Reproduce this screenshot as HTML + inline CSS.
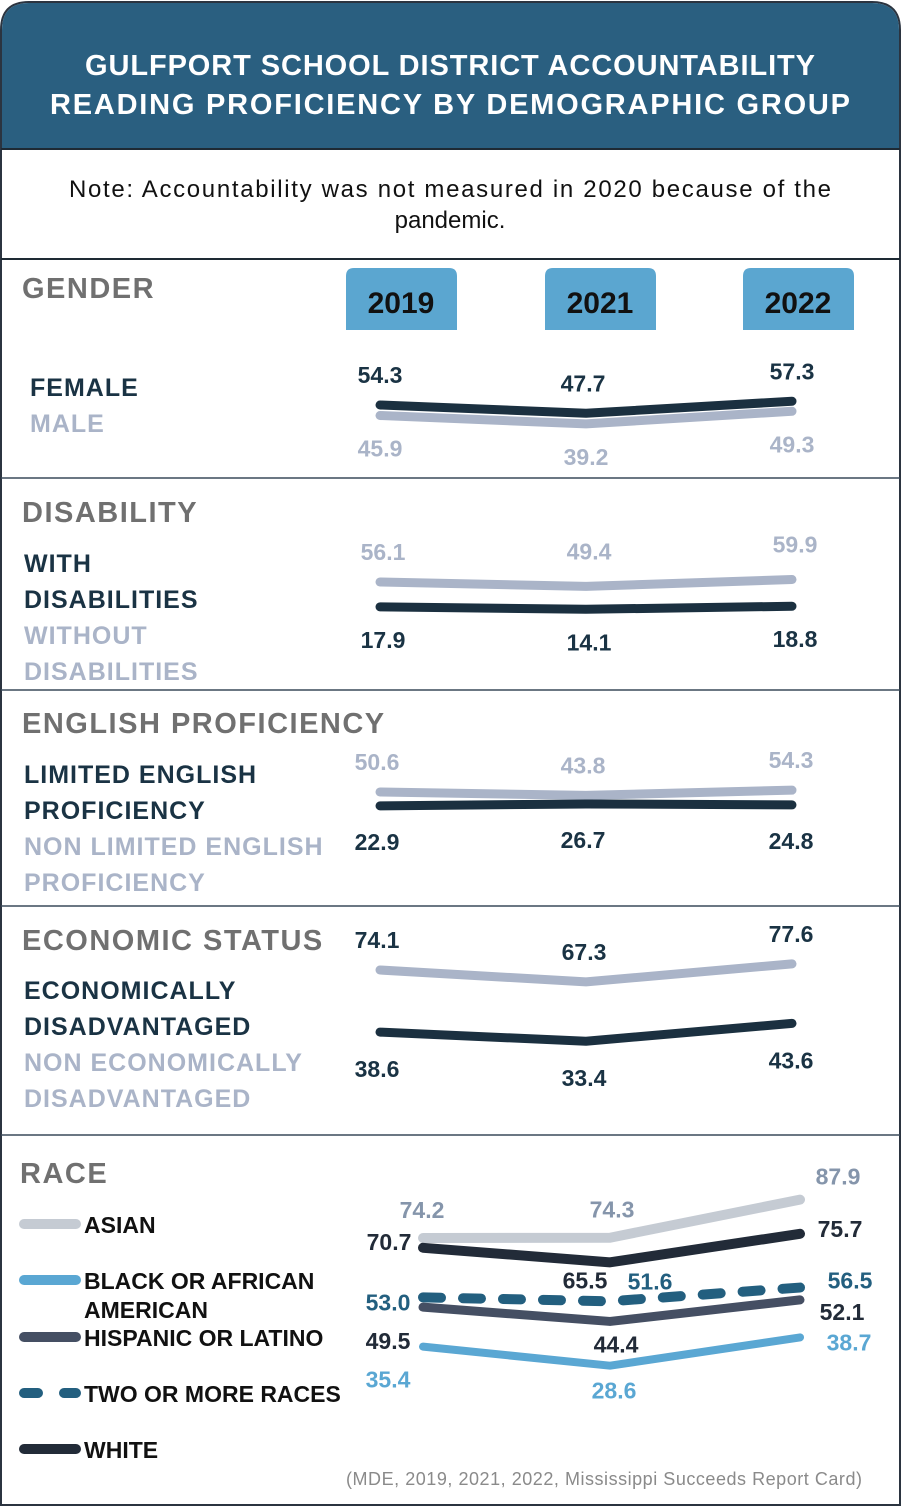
<!DOCTYPE html>
<html><head><meta charset="utf-8">
<style>
html,body{margin:0;padding:0;background:#fff;}
svg{display:block;font-family:"Liberation Sans",sans-serif;}
.lab{letter-spacing:1px;}
.head{letter-spacing:1.5px;}
</style></head>
<body>
<svg id="chart" width="901" height="1506" viewBox="0 0 901 1506">
  <path d="M1,1505 L1,30 Q1,2 29,2 L872,2 Q900,2 900,30 L900,1505 Z" fill="#fff" stroke="#2b3440" stroke-width="2"/>
  <path d="M2,148 L2,30 Q2,3 29,3 L872,3 Q899,3 899,30 L899,148 Z" fill="#2a5f80"/>
  <text x="450" y="75" text-anchor="middle" fill="#fff" font-weight="bold" font-size="29" textLength="730">GULFPORT SCHOOL DISTRICT ACCOUNTABILITY</text>
  <text x="450" y="114" text-anchor="middle" fill="#fff" font-weight="bold" font-size="29" textLength="800">READING PROFICIENCY BY DEMOGRAPHIC GROUP</text>
  <line x1="1" y1="149" x2="900" y2="149" stroke="#1e2a34" stroke-width="2"/>
  <text x="450" y="197" text-anchor="middle" fill="#111" font-size="24" textLength="762">Note: Accountability was not measured in 2020 because of the</text>
  <text x="450" y="228" text-anchor="middle" fill="#111" font-size="24">pandemic.</text>
  <line x1="1" y1="259" x2="900" y2="259" stroke="#1e2a34" stroke-width="2"/>
  <line x1="1" y1="478" x2="900" y2="478" stroke="#3a4a5a" stroke-width="1.5"/>
  <line x1="1" y1="690" x2="900" y2="690" stroke="#3a4a5a" stroke-width="1.5"/>
  <line x1="1" y1="906" x2="900" y2="906" stroke="#3a4a5a" stroke-width="1.5"/>
  <line x1="1" y1="1135" x2="900" y2="1135" stroke="#3a4a5a" stroke-width="1.5"/>

  <g id="yearboxes"></g>

  <g font-weight="bold">
    <text class="head" x="22" y="298" font-size="29" fill="#707070">GENDER</text>
    <text class="lab" x="30" y="396" font-size="25" fill="#1a3344">FEMALE</text>
    <text class="lab" x="30" y="432" font-size="25" fill="#aab4c8">MALE</text>

    <text class="head" x="22" y="522" font-size="29" fill="#707070">DISABILITY</text>
    <text class="lab" x="24" y="572" font-size="25" fill="#1a3344">WITH</text>
    <text class="lab" x="24" y="608" font-size="25" fill="#1a3344">DISABILITIES</text>
    <text class="lab" x="24" y="644" font-size="25" fill="#aab4c8">WITHOUT</text>
    <text class="lab" x="24" y="680" font-size="25" fill="#aab4c8">DISABILITIES</text>

    <text class="head" x="22" y="733" font-size="29" fill="#707070">ENGLISH PROFICIENCY</text>
    <text class="lab" x="24" y="783" font-size="25" fill="#1a3344">LIMITED ENGLISH</text>
    <text class="lab" x="24" y="819" font-size="25" fill="#1a3344">PROFICIENCY</text>
    <text class="lab" x="24" y="855" font-size="25" fill="#aab4c8">NON LIMITED ENGLISH</text>
    <text class="lab" x="24" y="891" font-size="25" fill="#aab4c8">PROFICIENCY</text>

    <text class="head" x="22" y="950" font-size="29" fill="#707070">ECONOMIC STATUS</text>
    <text class="lab" x="24" y="999" font-size="25" fill="#1a3344">ECONOMICALLY</text>
    <text class="lab" x="24" y="1035" font-size="25" fill="#1a3344">DISADVANTAGED</text>
    <text class="lab" x="24" y="1071" font-size="25" fill="#aab4c8">NON ECONOMICALLY</text>
    <text class="lab" x="24" y="1107" font-size="25" fill="#aab4c8">DISADVANTAGED</text>

    <text class="head" x="20" y="1183" font-size="29" fill="#707070">RACE</text>
  </g>
  <g id="legend" font-weight="bold"></g>
  <g id="panels" font-weight="bold"></g>
  <text x="862" y="1485" text-anchor="end" font-size="18" fill="#8a8a8a" textLength="516">(MDE, 2019, 2021, 2022, Mississippi  Succeeds Report Card)</text>
</svg>
<script>
const years = ["2019","2021","2022"];
const female = [54.3, 47.7, 57.3];
const male = [45.9, 39.2, 49.3];
const withDis = [56.1, 49.4, 59.9];
const withoutDis = [17.9, 14.1, 18.8];
const lep = [50.6, 43.8, 54.3];
const nonLep = [22.9, 26.7, 24.8];
const econDis = [74.1, 67.3, 77.6];
const nonEcon = [38.6, 33.4, 43.6];
const asian = [74.2, 74.3, 87.9];
const black = [35.4, 28.6, 38.7];
const hispanic = [49.5, 44.4, 52.1];
const twoPlus = [53.0, 51.6, 56.5];
const white = [70.7, 65.5, 75.7];
const raceNames = ["ASIAN","BLACK OR AFRICAN","HISPANIC OR LATINO","TWO OR MORE RACES","WHITE"];

const NS = "http://www.w3.org/2000/svg";
function mk(tag, attrs, parent){const e=document.createElementNS(NS,tag);for(const k in attrs)e.setAttribute(k,attrs[k]);parent.appendChild(e);return e;}

const yb = document.getElementById("yearboxes");
const boxX = [346, 545, 743];
years.forEach((y,i)=>{
  const r = mk("path",{d:`M${boxX[i]},330 L${boxX[i]},276 Q${boxX[i]},268 ${boxX[i]+8},268 L${boxX[i]+103},268 Q${boxX[i]+111},268 ${boxX[i]+111},276 L${boxX[i]+111},330 Z`,fill:"#5ba6d0"},yb);
  
  
  const t = mk("text",{x:boxX[i]+55,y:313,"text-anchor":"middle","font-size":30,"font-weight":"bold",fill:"#111"},yb);
  t.textContent = y;
  
  
});

const panelsG = document.getElementById("panels");
function drawSeries(name, vals, xs, yScale, color, width, dash, labelColor, ldx, ldy){
  const pts = vals.map((v,i)=>[xs[i], yScale(v)]);
  const p = mk("polyline",{points:pts.map(p=>p.join(",")).join(" "),fill:"none",stroke:color,"stroke-width":width,"stroke-linecap":"round","stroke-linejoin":"round"},panelsG);
  if(dash) p.setAttribute("stroke-dasharray",dash);
  
  
  vals.forEach((v,i)=>{
    const t = mk("text",{x:pts[i][0]+ldx[i],y:pts[i][1]+ldy[i],"text-anchor":"middle","font-size":23,fill:labelColor},panelsG);
    t.textContent = v.toFixed(1);
    
    
  });
}
function scale(v0,y0,k){return v=>y0-(v-v0)*k;}

const xsA = [380, 586, 792];
const g1 = scale(54.3, 405, 1.25);
drawSeries("male", male, xsA, g1, "#aab4c8", 9, null, "#aab4c8", [0,0,0], [41,41,41]);
drawSeries("female", female, xsA, g1, "#1b3040", 9, null, "#1a3344", [0,-3,0], [-22,-22,-22]);

const g2 = scale(56.1, 582, 0.65);
drawSeries("with-disabilities", withDis, xsA, g2, "#aab4c8", 9, null, "#aab4c8", [3,3,3], [-22,-27,-27]);
drawSeries("without-disabilities", withoutDis, xsA, g2, "#1b3040", 9, null, "#1a3344", [3,3,3], [41,41,41]);

const g3 = scale(50.6, 792, 0.5);
drawSeries("lep", lep, xsA, g3, "#aab4c8", 9, null, "#aab4c8", [-3,-3,-1], [-22,-22,-22]);
drawSeries("non-lep", nonLep, xsA, g3, "#1b3040", 9, null, "#1a3344", [-3,-3,-1], [44,44,44]);

const g4 = scale(74.1, 970, 1.75);
drawSeries("econ-dis", econDis, xsA, g4, "#aab4c8", 9, null, "#1a3344", [-3,-2,-1], [-22,-22,-22]);
drawSeries("non-econ", nonEcon, xsA, g4, "#1b3040", 9, null, "#1a3344", [-3,-2,-1], [45,45,45]);

const xsR = [423, 610, 800];
const g5 = scale(74.2, 1238, 2.8);
drawSeries("asian", asian, xsR, g5, "#c5cbd3", 10, null, "#8595ab", [-1,2,38], [-20,-20,-15]);
drawSeries("black", black, xsR, g5, "#5aa7d3", 8, null, "#5aa7d3", [-35,4,49], [41,33,13]);
drawSeries("hispanic", hispanic, xsR, g5, "#454f63", 9, null, "#222b38", [-35,6,42], [42,31,20]);
drawSeries("white", white, xsR, g5, "#222b38", 10, null, "#222b38", [-34,-25,40], [2,26,3]);
drawSeries("two-or-more", twoPlus, xsR, g5, "#235f7f", 10, "18,22", "#235f7f", [-35,40,50], [13,-12,1]);

const lg = document.getElementById("legend");
const legColors = ["#c5cbd3","#5aa7d3","#454f63","#235f7f","#222b38"];
const legY = [1224, 1280, 1337, 1393, 1449];
raceNames.forEach((n,i)=>{
  const l = mk("line",{x1:24,y1:legY[i],x2:76,y2:legY[i],stroke:legColors[i],"stroke-width":10,"stroke-linecap":"round"},lg);
  if(i===3) l.setAttribute("stroke-dasharray","14,26");
  
  
  const t = mk("text",{x:84,y:legY[i]+9,"font-size":23,fill:"#111"},lg);
  t.textContent = n;
  
  
});
const t2 = mk("text",{x:84,y:1318,"font-size":23,fill:"#111"},lg);
t2.textContent = "AMERICAN";


</script>
</body></html>
